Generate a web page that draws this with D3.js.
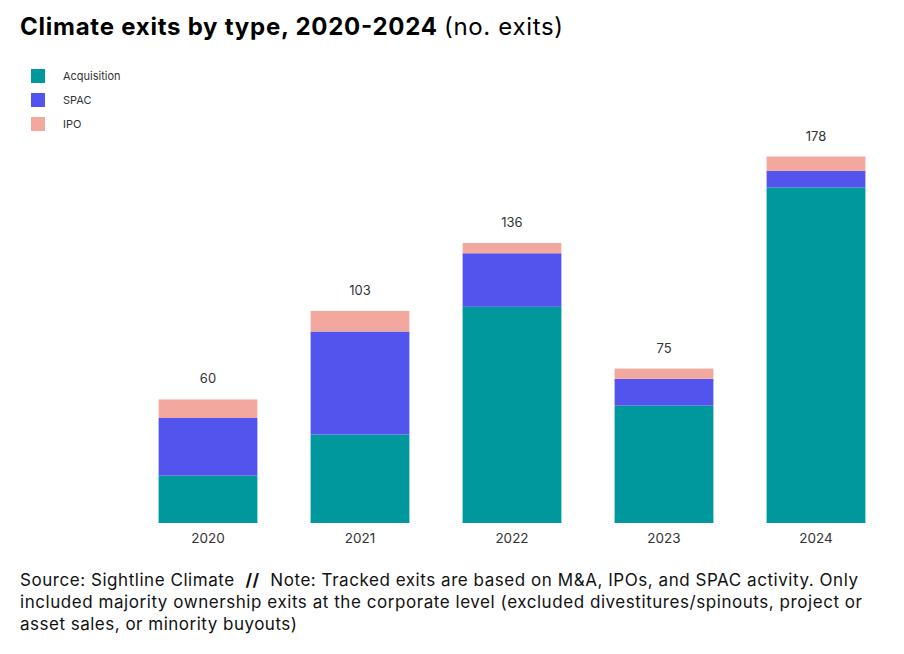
<!DOCTYPE html>
<html>
<head>
<meta charset="utf-8">
<script src="https://cdn.jsdelivr.net/npm/d3@7"></script>
<style>
  body { margin: 0; background: #fff; }
  svg { font-family: Inter, "Noto Sans", sans-serif; }
</style>
</head>
<body>
<div id="chart"></div>
<script>
// data
const years = ['2020', '2021', '2022', '2023', '2024'];
const acquisition = [23, 43, 105, 57, 163];
const spac = [28, 50, 26, 13, 8];
const ipo = [9, 10, 5, 5, 7];
const seriesNames = ['Acquisition', 'SPAC', 'IPO'];
const seriesColors = ['#00979d', '#5353ee', '#f3a89f'];

const footLines = [
  'included majority ownership exits at the corporate level (excluded divestitures/spinouts, project or',
  'asset sales, or minority buyouts)'
];
const footWidths = [842, 277];

const width = 904, height = 654;

const svg = d3.select('#chart')
  .append('svg')
  .attr('width', width)
  .attr('height', height);

// title (two parts, stretched to the reference width)
svg.append('text')
  .attr('x', 20)
  .attr('y', 35)
  .attr('fill', '#000')
  .attr('font-weight', 700)
  .attr('textLength', 417)
  .attr('lengthAdjust', 'spacing')
  .style('font-size', '24px')
  .text('Climate exits by type, 2020-2024');
svg.append('text')
  .attr('x', 444)
  .attr('y', 35)
  .attr('fill', '#000')
  .attr('textLength', 119)
  .attr('lengthAdjust', 'spacing')
  .style('font-size', '24px')
  .text('(no. exits)');

// legend
const legend = svg.append('g')
  .selectAll('g')
  .data(seriesNames)
  .join('g')
  .attr('transform', (d, i) => `translate(31,${69 + i * 24})`);
legend.append('rect')
  .attr('width', 14)
  .attr('height', 14)
  .attr('fill', (d, i) => seriesColors[i]);
legend.append('text')
  .attr('x', 32)
  .attr('y', 11)
  .attr('fill', '#333')
  .style('font-size', '11px')
  .text(d => d);

// stacked bars
const rows = years.map((y, i) => ({
  year: y, Acquisition: acquisition[i], SPAC: spac[i], IPO: ipo[i]
}));
const stack = d3.stack().keys(seriesNames)(rows);
const totals = rows.map(r => r.Acquisition + r.SPAC + r.IPO);

const x = d3.scaleBand()
  .domain(years)
  .range([132, 892])
  .paddingInner(0.35)
  .paddingOuter(0.175);

const y = d3.scaleLinear()
  .domain([0, 178])
  .range([523, 156.5]);

svg.append('g')
  .selectAll('g')
  .data(stack)
  .join('g')
  .attr('fill', (d, i) => seriesColors[i])
  .selectAll('rect')
  .data(d => d)
  .join('rect')
  .attr('x', d => x(d.data.year))
  .attr('y', d => y(d[1]))
  .attr('width', x.bandwidth())
  .attr('height', d => y(d[0]) - y(d[1]));

// totals above bars
svg.append('g')
  .selectAll('text')
  .data(years)
  .join('text')
  .attr('x', d => x(d) + x.bandwidth() / 2)
  .attr('y', (d, i) => y(totals[i]) - 16)
  .attr('text-anchor', 'middle')
  .attr('fill', '#333')
  .style('font-size', '13px')
  .text((d, i) => totals[i]);

// x axis, labels only
const xAxis = svg.append('g')
  .attr('transform', 'translate(0,523)')
  .call(d3.axisBottom(x).tickSize(0).tickPadding(10));
xAxis.select('.domain').remove();
xAxis.selectAll('text')
  .attr('fill', '#333')
  .style('font-family', 'Inter, "Noto Sans", sans-serif')
  .style('font-size', '13.5px');

// footer
const foot = svg.append('text')
  .attr('x', 20)
  .attr('y', 586)
  .attr('fill', '#111')
  .attr('textLength', 838)
  .attr('lengthAdjust', 'spacing')
  .style('white-space', 'pre')
  .style('font-size', '17px');
foot.append('tspan').text('Source: Sightline Climate  ');
foot.append('tspan').attr('font-weight', 700).text('//');
foot.append('tspan').text('  Note: Tracked exits are based on M&A, IPOs, and SPAC activity. Only');
footLines.forEach((line, i) => {
  svg.append('text')
    .attr('x', 20)
    .attr('y', 586 + (i + 1) * 22)
    .attr('fill', '#111')
    .attr('textLength', footWidths[i])
    .attr('lengthAdjust', 'spacing')
    .style('font-size', '17px')
    .text(line);
});
</script>
</body>
</html>
